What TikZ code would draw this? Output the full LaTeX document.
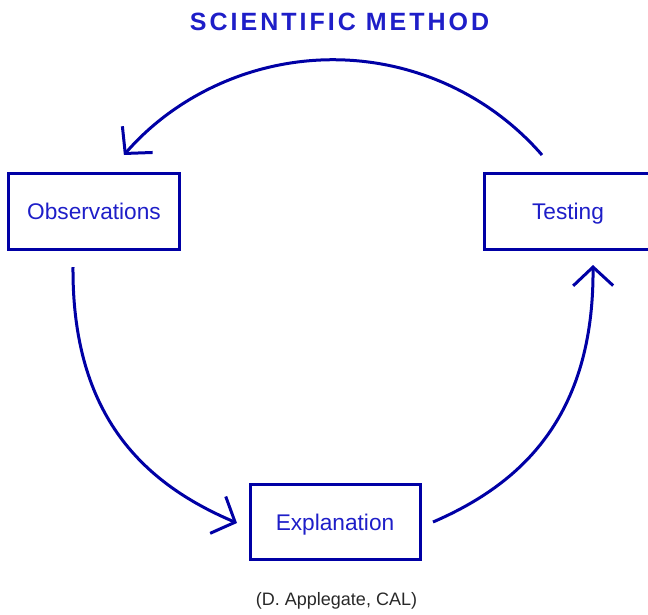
\documentclass[tikz,border=0pt]{standalone}
\usepackage{fontspec}
\setmainfont{Liberation Sans}
\usetikzlibrary{arrows.meta}
\definecolor{MethodBlue}{RGB}{0, 0, 165}
\definecolor{MethodText}{RGB}{30, 30, 200}
\definecolor{CreditGrey}{RGB}{40, 40, 40}

\begin{document}
\begin{tikzpicture}[
        x=0.75pt, y=-0.75pt,
        box/.style={rectangle, draw=MethodBlue, line width=2.25pt, minimum width=128.6pt, minimum height=57pt, inner sep=0pt, text=MethodText, font=\fontsize{17}{20}\selectfont, text height=12.2pt, text depth=0pt},
        cycle/.style={-{Straight Barb[length=14pt, width=30pt]}, line width=2.25pt, MethodBlue},
        heading/.style={anchor=base, inner sep=0pt, text=MethodText, font=\fontsize{18.75}{22}\selectfont\bfseries\addfontfeature{LetterSpace=12}},
        credit/.style={anchor=base, inner sep=0pt, text=CreditGrey, font=\fontsize{13.5}{16}\selectfont}
    ]
        \useasboundingbox (0,0) rectangle (648,614);
        \clip (0,0) rectangle (648,614);

        % Nodes
        \node[heading] (head) at (339.5,30) {SCIENTIFIC METHOD};
        \node[box] (obs) at (94,211.5) {Observations};
        \node[box, minimum width=126pt] (test) at (568,211.5) {Testing};
        \node[box, minimum width=127.5pt, minimum height=56.6pt] (expl) at (335,522) {Explanation};
        \node[credit] (src) at (336.5,605) {(D. Applegate, CAL)};

        % Arc ends
        \coordinate (obs out) at (73,267);
        \coordinate (obs in) at (124,155);
        \coordinate (test out) at (542,155);
        \coordinate (test in) at (593,265);
        \coordinate (expl out) at (433,522);
        \coordinate (expl in) at (237,523);

        % Arrows
        \draw[cycle] (test out) arc[start angle=-41, end angle=-139, radius=277];
        \draw[cycle] (obs out) .. controls (72,417) and (145,484) .. (expl in);
        \draw[cycle] (expl out) .. controls (521,484) and (594,417) .. (test in);

    \end{tikzpicture}
\end{document}
